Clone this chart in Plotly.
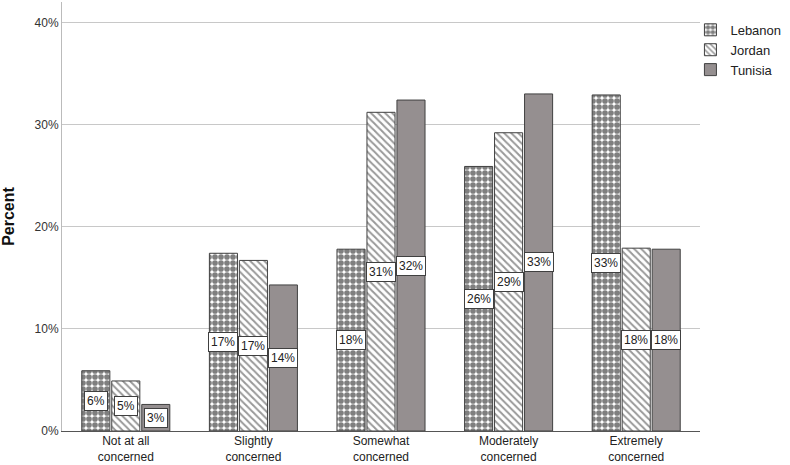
import plotly.graph_objects as go

categories = ["Not at all<br>concerned", "Slightly<br>concerned", "Somewhat<br>concerned",
              "Moderately<br>concerned", "Extremely<br>concerned"]
lebanon = [5.9, 17.4, 17.8, 25.9, 32.9]
jordan = [4.9, 16.7, 31.2, 29.2, 17.9]
tunisia = [2.6, 14.3, 32.4, 33.0, 17.8]
tick_vals = [0, 10, 20, 30, 40]
tick_text = ["0%", "10%", "20%", "30%", "40%"]

series = [
    ("Lebanon", lebanon, dict(shape=".", fgcolor="black", bgcolor="white", size=6, solidity=0.7), "white"),
    ("Jordan", jordan, dict(shape="\\", fgcolor="#333333", bgcolor="white", size=5, solidity=0.4), "white"),
    ("Tunisia", tunisia, dict(shape=""), "#958f90"),
]
offsets = [-0.235, 0.0, 0.235]

fig = go.Figure()
annotations = []
for (name, vals, pat, color), off in zip(series, offsets):
    xs = [i + off for i in range(len(categories))]
    fig.add_trace(go.Bar(
        x=xs, y=vals, name=name, width=0.22,
        marker=dict(color=color, pattern=pat, line=dict(color="#404040", width=1)),
        hoverinfo="y",
    ))
    for x, v in zip(xs, vals):
        annotations.append(dict(
            x=x, y=v / 2, text=f"{round(v)}%", showarrow=False,
            font=dict(family="Liberation Sans, Arial", size=12, color="#222"),
            bgcolor="white", bordercolor="#404040", borderwidth=1, borderpad=2,
        ))

fig.update_layout(
    width=790, height=465,
    margin=dict(l=62, r=90, t=2, b=34, autoexpand=False),
    plot_bgcolor="white", paper_bgcolor="white",
    barmode="overlay",
    font=dict(family="Liberation Sans, Arial", size=12, color="#333"),
    annotations=annotations,
    showlegend=True,
    legend=dict(x=0.985, y=0.97, xanchor="left", yanchor="top",
                font=dict(size=13, color="#222"), tracegroupgap=0,
                itemwidth=30, bgcolor="rgba(0,0,0,0)"),
    xaxis=dict(
        range=[-0.5, 4.5], tickvals=list(range(len(categories))), ticktext=categories,
        showgrid=False, showline=True, linecolor="#555", linewidth=1,
        ticks="", tickfont=dict(size=12, color="#222"), zeroline=False,
        automargin=False, ticklabelstandoff=-1,
    ),
    yaxis=dict(
        range=[0, 42], tickvals=tick_vals, ticktext=tick_text,
        showgrid=True, gridcolor="#c8c8c8", gridwidth=1,
        showline=True, linecolor="#bbbbbb", linewidth=1, zeroline=False,
        ticks="", tickfont=dict(size=12, color="#333"), automargin=False,
        title=dict(text="<b>Percent</b>", font=dict(size=16, color="#111"), standoff=18),
    ),
)

fig.write_html("out.html", config={"displayModeBar": False},
               post_script="document.body.style.margin='0px';")
